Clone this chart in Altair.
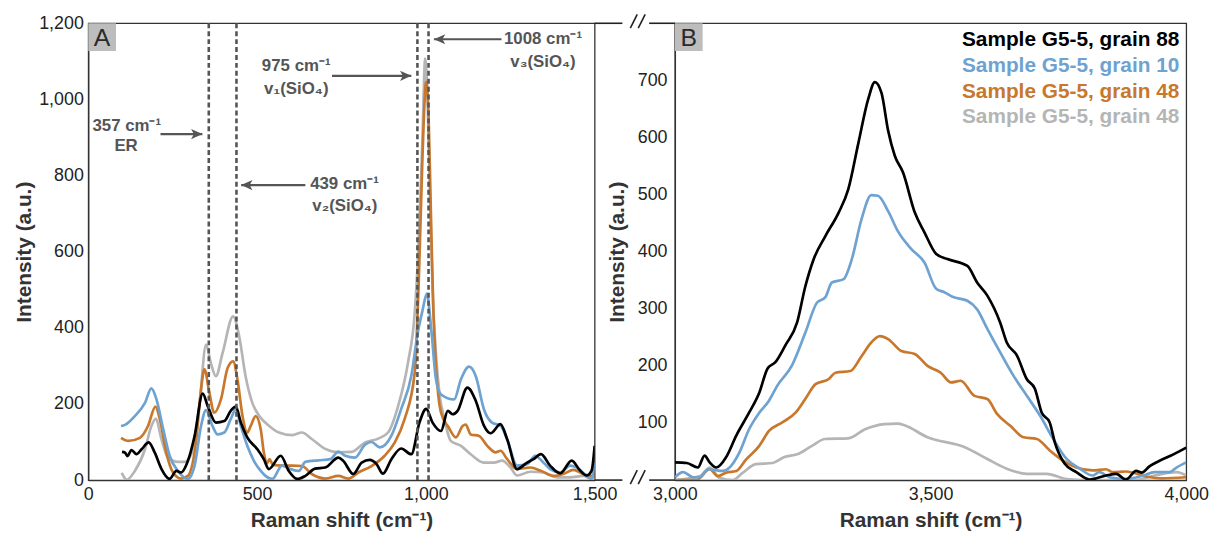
import altair as alt
import pandas as pd

FONT = "Liberation Sans, Arial, Helvetica, sans-serif"

# ---------------- Panel A (0 - 1500 cm-1) ----------------
a_black_x = [100, 109, 116, 128, 143, 158, 179, 197, 217, 241, 261, 275, 295, 315, 339, 354, 378, 403, 422, 437,
             452, 471, 501, 520, 535, 570, 594, 619, 643, 672, 702, 741, 755, 785, 810, 834, 854, 873, 898, 927,
             957, 981, 1001, 1020, 1045, 1065, 1079, 1094, 1123, 1148, 1172, 1192, 1221, 1241, 1270, 1300, 1319,
             1341, 1368, 1398, 1432, 1457, 1476, 1491, 1500]
a_black_y = [74, 72, 63, 79, 68, 81, 99, 72, 29, 3, 24, 20, 50, 116, 227, 194, 151, 155, 182, 193,
             151, 112, 81, 55, 29, 64, 24, 3, 11, 30, 33, 59, 51, 16, 46, 53, 42, 17, 55, 83,
             68, 151, 187, 151, 129, 182, 173, 182, 243, 208, 143, 123, 147, 107, 29, 46, 55,
             68, 38, 18, 51, 25, 12, 25, 90]

a_blue_x = [97, 109, 138, 168, 187, 202, 222, 241, 266, 295, 315, 334, 349, 368, 383, 403, 422, 437, 452, 471,
            491, 511, 525, 545, 574, 599, 624, 643, 682, 717, 741, 761, 790, 820, 839, 864, 898, 927, 957, 976,
            990, 1003, 1016, 1030, 1045, 1084, 1104, 1128, 1148, 1172, 1196, 1221, 1241, 1270, 1300, 1324, 1343,
            1368, 1398, 1427, 1447, 1476, 1491, 1500]
a_blue_y = [142, 145, 168, 203, 241, 212, 134, 64, 24, 3, 38, 142, 184, 142, 120, 125, 160, 186, 142, 90,
            50, 24, 11, 3, 38, 29, 24, 48, 52, 55, 75, 64, 59, 93, 100, 86, 117, 187, 274, 387,
            445, 490, 396, 265, 225, 212, 265, 298, 273, 186, 151, 143, 107, 38, 42, 64, 51,
            29, 20, 38, 33, 11, 3, 45]

a_orange_x = [97, 119, 153, 177, 199, 212, 231, 251, 275, 295, 320, 334, 344, 359, 373, 393, 413, 429, 442, 457,
              471, 481, 496, 511, 520, 530, 537, 547, 575, 605, 633, 662, 702, 741, 770, 800, 839, 878, 908, 937,
              967, 980, 990, 1001, 1008, 1015, 1022, 1030, 1040, 1052, 1065, 1089, 1109, 1118, 1133, 1158, 1182,
              1207, 1221, 1241, 1270, 1310, 1339, 1378, 1407, 1437, 1466, 1491, 1500]
a_orange_y = [111, 103, 111, 142, 193, 160, 73, 20, 4, 11, 107, 238, 291, 229, 177, 212, 295, 312, 264, 168,
              125, 142, 168, 133, 73, 45, 55, 40, 38, 38, 37, 16, 4, 11, 4, 20, 37, 64, 99, 160,
              282, 550, 850, 1046, 960, 700, 450, 300, 200, 160, 142, 112, 142, 146, 120, 116, 90,
              73, 77, 55, 29, 33, 25, 11, 16, 27, 16, 11, 10]

a_gray_x = [99, 114, 138, 168, 187, 200, 217, 236, 266, 285, 305, 329, 349, 363, 378, 398, 429, 447, 466, 486,
            506, 535, 565, 604, 633, 662, 702, 741, 780, 820, 859, 888, 918, 947, 967, 980, 990, 998, 1005, 1012,
            1020, 1030, 1040, 1055, 1074, 1104, 1133, 1172, 1202, 1226, 1251, 1270, 1310, 1349, 1388, 1427,
            1466, 1491, 1500]
a_gray_y = [19, 1, 24, 81, 142, 161, 107, 59, 48, 48, 68, 195, 356, 308, 273, 334, 430, 378, 273, 203,
            169, 143, 125, 118, 125, 108, 82, 73, 74, 99, 109, 125, 195, 308, 439, 650, 900, 1107, 1000, 750,
            500, 330, 230, 160, 103, 90, 68, 46, 46, 51, 33, 12, 22, 20, 7, 7,
            11, 3, 5]

# ---------------- Panel B (3000 - 4000 cm-1) ----------------
b_black_x = [3000, 3023, 3045, 3058, 3068, 3081, 3100, 3120, 3145, 3165, 3181, 3197, 3216, 3239, 3255, 3271, 3294,
             3320, 3339, 3359, 3378, 3391, 3404, 3417, 3430, 3446, 3469, 3488, 3511, 3533, 3572, 3591, 3611, 3636,
             3649, 3669, 3688, 3704, 3717, 3733, 3743, 3762, 3785, 3811, 3843, 3863, 3882, 3902, 3913, 3928, 3946,
             3975, 4000]
b_black_y = [31, 30, 22, 43, 31, 22, 40, 78, 118, 153, 195, 207, 236, 276, 339, 386, 427,
             468, 509, 591, 667, 697, 678, 612, 568, 539, 469, 434, 396, 387, 375, 346, 323, 276,
             241, 218, 177, 160, 119, 101, 66, 29, 14, 1, 8, 11, 1, 16, 13, 24, 33,
             45, 57]

b_blue_x = [3000, 3016, 3036, 3049, 3065, 3094, 3107, 3126, 3145, 3165, 3184, 3200, 3229, 3255, 3278, 3294, 3307,
            3330, 3346, 3365, 3384, 3397, 3417, 3436, 3462, 3488, 3511, 3527, 3543, 3572, 3591, 3611, 3636, 3662,
            3688, 3714, 3740, 3766, 3792, 3817, 3830, 3850, 3882, 3916, 3938, 3967, 3981, 4000]
b_blue_y = [5, 14, 5, 5, 19, 16, 22, 48, 89, 118, 139, 165, 201, 258, 311, 320, 346,
            352, 387, 457, 499, 498, 471, 436, 405, 381, 335, 329, 321, 314, 299, 265, 224, 183,
            148, 113, 72, 37, 20, 8, 14, 5, 2, 8, 14, 14, 22, 31]

b_orange_x = [3000, 3042, 3068, 3084, 3100, 3120, 3139, 3165, 3184, 3210, 3236, 3255, 3275, 3301, 3314, 3343, 3365,
              3384, 3401, 3417, 3443, 3469, 3494, 3520, 3540, 3559, 3585, 3611, 3630, 3656, 3682, 3708, 3733, 3759,
              3785, 3817, 3843, 3856, 3882, 3923, 3952, 4000]
b_orange_y = [0, 0, 19, 7, 13, 16, 36, 60, 86, 101, 118, 142, 168, 177, 188, 191, 217,
              241, 252, 247, 226, 221, 200, 188, 171, 174, 148, 142, 116, 95, 75, 72, 52, 34,
              22, 17, 19, 14, 15, 6, 3, 5]

b_gray_x = [3000, 3049, 3068, 3087, 3113, 3133, 3158, 3191, 3213, 3242, 3268, 3294, 3339, 3372, 3410, 3436, 3449,
            3494, 3566, 3611, 3649, 3688, 3727, 3766, 3804, 3900, 3938, 3981, 4000]
b_gray_y = [0, 7, 22, 4, 0, 13, 28, 30, 40, 46, 60, 72, 73, 89, 98, 99, 96,
            75, 58, 37, 20, 11, 11, 2, 0, 0, 8, 14, 8]

series_keys = ["grain 48 (grey)", "grain 48", "grain 10", "grain 88"]
series_colors = ["#b5b5b5", "#c8782c", "#6ea2d1", "#000000"]
legend_labels = ["Sample G5-5, grain 88", "Sample G5-5, grain 10", "Sample G5-5, grain 48", "Sample G5-5, grain 48"]
legend_colors = ["#000000", "#6ea2d1", "#c8782c", "#b5b5b5"]

# reference lines and annotations (panel A)
ref_lines = [357, 439, 975, 1008]
ann_text = ["1008 cm\u207b\u00b9", "v\u2083(SiO\u2084)", "975 cm\u207b\u00b9", "v\u2081(SiO\u2084)",
            "357 cm\u207b\u00b9", "ER", "439 cm\u207b\u00b9", "v\u2082(SiO\u2084)"]
ann_x = [1347, 1347, 616, 616, 114, 112, 759, 760]
ann_y = [1158, 1097, 1088, 1027, 930, 878, 777, 720]
arrow_from = [1224, 722, 214, 643]
arrow_to = [1024, 957, 338, 453]
arrow_y = [1158, 1062, 909, 775]

A_W, B_W, H = 511, 516, 461
GRID = "#555555"


def frame(key, xs, ys):
    return pd.DataFrame({"x": xs, "y": ys, "s": key})


def panel(data_sets, xscale, yscale, xaxis, yaxis):
    layers = []
    for key, col, (xs, ys) in zip(series_keys, series_colors, data_sets):
        layers.append(
            alt.Chart(frame(key, xs, ys)).mark_line(
                color=col, strokeWidth=2.7, interpolate="monotone", clip=True
            ).encode(
                x=alt.X("x:Q", scale=xscale, axis=xaxis),
                y=alt.Y("y:Q", scale=yscale, axis=yaxis),
            )
        )
    return layers


x_title = "Raman shift (cm\u207b\u00b9)"
y_title = "Intensity (a.u.)"

axA_x = alt.Axis(title=x_title, values=[0, 500, 1000, 1500], format=",d")
axA_y = alt.Axis(title=y_title, values=[0, 200, 400, 600, 800, 1000, 1200], format=",d",
                 labelPadding=5, titlePadding=4)
axB_x = alt.Axis(title=x_title, values=[3000, 3500, 4000], format=",d")
axB_y = alt.Axis(title=y_title, values=[100, 200, 300, 400, 500, 600, 700], format=",d",
                 labelPadding=8, titlePadding=10)

xA = alt.Scale(domain=[0, 1500], nice=False, zero=False)
yA = alt.Scale(domain=[0, 1200], nice=False)
xB = alt.Scale(domain=[3000, 4000], nice=False, zero=False)
yB = alt.Scale(domain=[0, 800], nice=False)

one = pd.DataFrame({"k": [0]})


def box_label(letter):
    rect = alt.Chart(one).mark_rect(color="#bdbdbd").encode(
        x=alt.value(0), x2=alt.value(28), y=alt.value(0), y2=alt.value(28))
    txt = alt.Chart(one).mark_text(text=letter, font=FONT, fontSize=25, color="#2a2a2a",
                                   align="center", baseline="middle").encode(
        x=alt.value(14), y=alt.value(15))
    return [rect, txt]


def seg(x1, x2, y1, y2, w=1.6):
    return alt.Chart(one).mark_rule(color="#222222", strokeWidth=w, clip=False).encode(
        x=alt.value(x1), x2=alt.value(x2), y=alt.value(y1), y2=alt.value(y2))


# ---- Panel A layers
a_layers = panel([(a_gray_x, a_gray_y), (a_orange_x, a_orange_y), (a_blue_x, a_blue_y), (a_black_x, a_black_y)],
                 xA, yA, axA_x, axA_y)

dash = alt.Chart(pd.DataFrame({"x": ref_lines})).mark_rule(
    color=GRID, strokeWidth=2.6, strokeDash=[5, 3]).encode(x=alt.X("x:Q", scale=xA))

ann = alt.Chart(pd.DataFrame({"x": ann_x, "y": ann_y, "t": ann_text})).mark_text(
    font=FONT, fontSize=17, fontWeight="bold", color=GRID, align="center", baseline="middle").encode(
    x=alt.X("x:Q", scale=xA), y=alt.Y("y:Q", scale=yA), text="t:N")

arrows = pd.DataFrame({"x": arrow_from, "x2": arrow_to, "y": arrow_y})
shafts = alt.Chart(arrows).mark_rule(color=GRID, strokeWidth=2.2).encode(
    x=alt.X("x:Q", scale=xA), x2="x2:Q", y=alt.Y("y:Q", scale=yA))
arrows["dir"] = ["L" if b < a else "R" for a, b in zip(arrow_from, arrow_to)]
right_head = "M0,0 L-1,-0.45 L-0.75,0 L-1,0.45 Z"
left_head = "M0,0 L1,-0.45 L0.75,0 L1,0.45 Z"
heads_r = alt.Chart(arrows[arrows["dir"] == "R"]).mark_point(
    shape=right_head, size=520, filled=True, color=GRID, opacity=1, strokeWidth=0).encode(
    x=alt.X("x2:Q", scale=xA), y=alt.Y("y:Q", scale=yA))
heads_l = alt.Chart(arrows[arrows["dir"] == "L"]).mark_point(
    shape=left_head, size=520, filled=True, color=GRID, opacity=1, strokeWidth=0).encode(
    x=alt.X("x2:Q", scale=xA), y=alt.Y("y:Q", scale=yA))

breaks_A = [
    seg(A_W, A_W + 28, 0, 0), seg(A_W, A_W + 28, H, H),
    seg(A_W + 36, A_W + 43, 5, -9), seg(A_W + 44, A_W + 51, 5, -9),
    seg(A_W + 36, A_W + 43, H + 4, H - 10), seg(A_W + 44, A_W + 51, H + 4, H - 10),
]

panelA = alt.layer(*a_layers, dash, shafts, heads_r, heads_l, ann, *box_label("A"), *breaks_A).properties(
    width=A_W, height=H)

# ---- Panel B layers
b_layers = panel([(b_gray_x, b_gray_y), (b_orange_x, b_orange_y), (b_blue_x, b_blue_y), (b_black_x, b_black_y)],
                 xB, yB, axB_x, axB_y)

legend_layers = []
for i, (lab, col) in enumerate(zip(legend_labels, legend_colors)):
    legend_layers.append(
        alt.Chart(one).mark_text(text=lab, font=FONT, fontSize=21, fontWeight="bold", color=col,
                                 align="right", baseline="middle").encode(
            x=alt.value(B_W - 7), y=alt.value(17 + 26 * i)))

breaks_B = [seg(-26, 0, 0, 0), seg(-26, 0, H, H)]

panelB = alt.layer(*b_layers, *legend_layers, *box_label("B"), *breaks_B).properties(width=B_W, height=H)

chart = alt.hconcat(panelA, panelB, spacing=81, bounds="flush").properties(
    padding={"left": 5, "top": 2, "right": 2, "bottom": 2}
).configure_view(
    stroke="#333333", strokeWidth=1.3
).configure_axis(
    labelFont=FONT, labelFontSize=18, labelColor="#222222", labelFlush=False,
    titleFont=FONT, titleFontSize=21, titleFontWeight="bold", titleColor="#333333",
    ticks=False, grid=False, domainColor="#333333", domainWidth=1.3,
).configure_axisX(titlePadding=6, labelPadding=6)

chart.save("out.html", embed_options={"renderer": "svg", "actions": False})
